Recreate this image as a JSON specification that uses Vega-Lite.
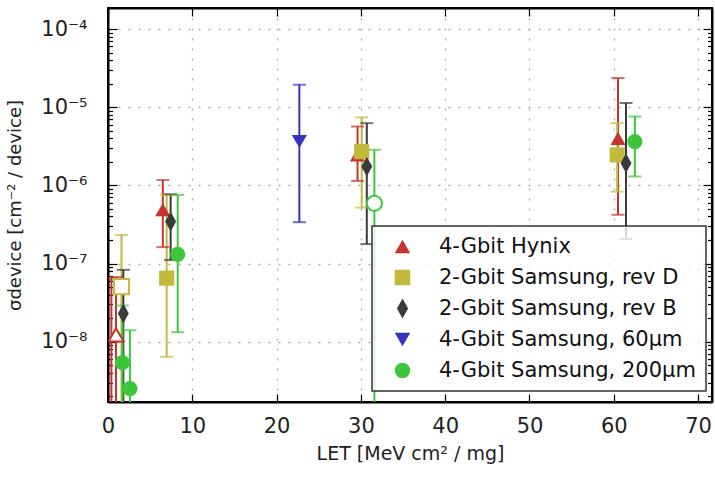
{
 "$schema": "https://vega.github.io/schema/vega-lite/v6.json",
 "width": 604,
 "height": 394,
 "autosize": {"type": "none"},
 "padding": {"left": 108, "top": 8, "right": 3, "bottom": 75},
 "background": "white",
 "config": {
  "font": "DejaVu Sans",
  "view": {"stroke": "black", "strokeWidth": 2},
  "axis": {
   "domainColor": "black", "domainWidth": 2,
   "tickColor": "black", "tickWidth": 1.2,
   "labelFont": "DejaVu Sans", "labelFontSize": 21, "labelColor": "#222",
   "titleFont": "DejaVu Sans", "titleFontSize": 18, "titleFontWeight": "normal", "titleColor": "#222",
   "gridColor": "#aaa", "gridDash": [2, 8], "gridWidth": 1.3,
   "labelFlush": false, "labelOverlap": false, "labelBound": false
  },
  "legend": {
   "labelFontSize": 21, "labelColor": "#111", "labelFont": "DejaVu Sans",
   "symbolSize": 240, "symbolStrokeWidth": 0, "symbolOpacity": 1, "padding": 10, "rowPadding": 9,
   "labelOffset": 26, "symbolOffset": 10, "fillColor": "rgba(255,255,255,0.8)",
   "strokeColor": "#333", "strokeWidth": 1.5, "labelLimit": 400
  }
 },
 "data": {"values": [
  {"series": "4-Gbit Hynix", "x": 0.4, "y": 1e-9, "lo": 1e-10, "hi": 6.5e-8, "open": true},
  {"series": "4-Gbit Hynix", "x": 0.95, "y": 1.22e-8, "lo": 1e-10, "hi": 6.7e-8, "open": true},
  {"series": "4-Gbit Hynix", "x": 6.5, "y": 4.9e-7, "lo": 1.62e-7, "hi": 1.17e-6, "open": false},
  {"series": "4-Gbit Hynix", "x": 29.6, "y": 2.45e-6, "lo": 1.14e-6, "hi": 5.66e-6, "open": false},
  {"series": "4-Gbit Hynix", "x": 60.5, "y": 4.0e-6, "lo": 4.2e-7, "hi": 2.36e-5, "open": false},
  {"series": "2-Gbit Samsung, rev D", "x": 1.6, "y": 5.06e-8, "lo": 1e-10, "hi": 2.32e-7, "open": true},
  {"series": "2-Gbit Samsung, rev D", "x": 6.96, "y": 6.5e-8, "lo": 6.4e-9, "hi": 7.5e-7, "open": false},
  {"series": "2-Gbit Samsung, rev D", "x": 30.1, "y": 2.7e-6, "lo": 5.2e-7, "hi": 7.4e-6, "open": false},
  {"series": "2-Gbit Samsung, rev D", "x": 60.4, "y": 2.45e-6, "lo": 8.3e-7, "hi": 6.25e-6, "open": false},
  {"series": "2-Gbit Samsung, rev B", "x": 1.82, "y": 2.3e-8, "lo": 1e-10, "hi": 8.3e-8, "open": false},
  {"series": "2-Gbit Samsung, rev B", "x": 7.43, "y": 3.44e-7, "lo": 1.11e-7, "hi": 7.7e-7, "open": false},
  {"series": "2-Gbit Samsung, rev B", "x": 30.7, "y": 1.74e-6, "lo": 1.77e-7, "hi": 6.25e-6, "open": false},
  {"series": "2-Gbit Samsung, rev B", "x": 61.45, "y": 1.92e-6, "lo": 2.06e-7, "hi": 1.13e-5, "open": false},
  {"series": "4-Gbit Samsung, 60µm", "x": 22.7, "y": 3.64e-6, "lo": 3.38e-7, "hi": 1.94e-5, "open": false},
  {"series": "4-Gbit Samsung, 200µm", "x": 1.7, "y": 5.4e-9, "lo": 1e-10, "hi": 2.9e-8, "open": false},
  {"series": "4-Gbit Samsung, 200µm", "x": 2.6, "y": 2.5e-9, "lo": 1e-10, "hi": 1.4e-8, "open": false},
  {"series": "4-Gbit Samsung, 200µm", "x": 8.27, "y": 1.31e-7, "lo": 1.32e-8, "hi": 7.55e-7, "open": false},
  {"series": "4-Gbit Samsung, 200µm", "x": 31.6, "y": 5.9e-7, "lo": 1e-10, "hi": 2.85e-6, "open": true},
  {"series": "4-Gbit Samsung, 200µm", "x": 62.5, "y": 3.64e-6, "lo": 1.3e-6, "hi": 7.6e-6, "open": false}
 ]},
 "layer": [
  {
   "encoding": {
    "x": {"field": "x", "type": "quantitative", "title": "LET [MeV cm² / mg]",
     "scale": {"domain": [0, 71.65], "nice": false, "zero": false},
     "axis": {"orient": "bottom", "values": [0, 10, 20, 30, 40, 50, 60, 70], "title": "LET [MeV cm² / mg]", "tickSize": -8, "labelPadding": 21, "titlePadding": 8, "titleFontSize": 19, "grid": true}},
    "y": {"field": "y", "type": "quantitative", "title": "σdevice [cm⁻² / device]",
     "scale": {"type": "log", "domain": [1.69e-9, 1.86e-4], "nice": false},
     "axis": {"orient": "left", "title": "σdevice [cm⁻² / device]",
      "values": [2e-9, 3e-9, 4e-9, 5e-9, 6e-9, 7e-9, 8e-9, 9e-9, 1e-8, 2e-8, 3e-8, 4e-8, 5e-8, 6e-8, 7e-8, 8e-8, 9e-8, 1e-7, 2e-7, 3e-7, 4e-7, 5e-7, 6e-7, 7e-7, 8e-7, 9e-7, 1e-6, 2e-6, 3e-6, 4e-6, 5e-6, 6e-6, 7e-6, 8e-6, 9e-6, 1e-5, 2e-5, 3e-5, 4e-5, 5e-5, 6e-5, 7e-5, 8e-5, 9e-5, 1e-4],
      "labelExpr": "abs(log(datum.value)/LN10 - round(log(datum.value)/LN10)) < 0.001 ? '10⁻' + ['⁰','¹','²','³','⁴','⁵','⁶','⁷','⁸','⁹'][-round(log(datum.value)/LN10)] : ''",
      "tickSize": {"condition": {"test": "abs(log(datum.value)/LN10 - round(log(datum.value)/LN10)) < 0.001", "value": -9}, "value": -4.5},
      "gridOpacity": {"condition": {"test": "abs(log(datum.value)/LN10 - round(log(datum.value)/LN10)) < 0.001", "value": 1}, "value": 0},
      "labelPadding": 30, "titlePadding": 16, "grid": true}}
   },
   "layer": [
    {
     "mark": {"type": "rule", "strokeWidth": 2, "clip": true},
     "encoding": {
      "y": {"field": "lo", "type": "quantitative", "title": "σdevice [cm⁻² / device]", "scale": {"type": "log", "domain": [1.69e-9, 1.86e-4], "nice": false}},
      "y2": {"field": "hi"},
      "color": {"field": "series", "type": "nominal", "legend": {"title": null, "orient": "none", "legendX": 264, "legendY": 218},
       "scale": {"domain": ["4-Gbit Hynix", "2-Gbit Samsung, rev D", "2-Gbit Samsung, rev B", "4-Gbit Samsung, 60µm", "4-Gbit Samsung, 200µm"], "range": ["#c8322d", "#c2ba3a", "#3a3a3a", "#3434bf", "#3cc63c"]}}
     }
    },
    {
     "mark": {"type": "tick", "orient": "horizontal", "size": 13, "thickness": 2, "clip": true},
     "encoding": {
      "y": {"field": "hi", "type": "quantitative", "title": "σdevice [cm⁻² / device]", "scale": {"type": "log", "domain": [1.69e-9, 1.86e-4], "nice": false}},
      "color": {"field": "series", "type": "nominal", "legend": {"title": null, "orient": "none", "legendX": 264, "legendY": 218}}
     }
    },
    {
     "mark": {"type": "tick", "orient": "horizontal", "size": 13, "thickness": 2, "clip": true},
     "encoding": {
      "y": {"field": "lo", "type": "quantitative", "title": "σdevice [cm⁻² / device]", "scale": {"type": "log", "domain": [1.69e-9, 1.86e-4], "nice": false}},
      "color": {"field": "series", "type": "nominal", "legend": {"title": null, "orient": "none", "legendX": 264, "legendY": 218}}
     }
    },
    {
     "transform": [{"filter": "!datum.open"}],
     "mark": {"type": "point", "filled": true, "opacity": 1, "size": 230, "clip": true},
     "encoding": {
      "color": {"field": "series", "type": "nominal", "legend": {"title": null, "orient": "none", "legendX": 264, "legendY": 218}},
      "shape": {"field": "series", "type": "nominal", "legend": {"title": null, "orient": "none", "legendX": 264, "legendY": 218},
       "scale": {"domain": ["4-Gbit Hynix", "2-Gbit Samsung, rev D", "2-Gbit Samsung, rev B", "4-Gbit Samsung, 60µm", "4-Gbit Samsung, 200µm"], "range": ["triangle-up", "square", "M0,-1.3L0.72,0L0,1.3L-0.72,0Z", "triangle-down", "circle"]}}
     }
    },
    {
     "transform": [{"filter": "datum.open"}],
     "mark": {"type": "point", "filled": false, "fill": "white", "fillOpacity": 1, "strokeWidth": 2, "opacity": 1, "size": 230, "clip": true},
     "encoding": {
      "color": {"field": "series", "type": "nominal", "legend": {"title": null, "orient": "none", "legendX": 264, "legendY": 218}},
      "shape": {"field": "series", "type": "nominal", "legend": {"title": null, "orient": "none", "legendX": 264, "legendY": 218}}
     }
    }
   ]
  },
  {
   "mark": {"type": "point", "opacity": 0},
   "encoding": {
    "x": {"field": "x", "type": "quantitative",
     "scale": {"domain": [0, 71.65], "nice": false, "zero": false},
     "axis": {"orient": "top", "values": [0, 10, 20, 30, 40, 50, 60, 70], "title": null, "labels": false, "tickSize": -8, "grid": false}},
    "y": {"field": "y", "type": "quantitative",
     "scale": {"type": "log", "domain": [1.69e-9, 1.86e-4], "nice": false},
     "axis": {"orient": "right", "title": null, "labels": false, "grid": false,
      "values": [2e-9, 3e-9, 4e-9, 5e-9, 6e-9, 7e-9, 8e-9, 9e-9, 1e-8, 2e-8, 3e-8, 4e-8, 5e-8, 6e-8, 7e-8, 8e-8, 9e-8, 1e-7, 2e-7, 3e-7, 4e-7, 5e-7, 6e-7, 7e-7, 8e-7, 9e-7, 1e-6, 2e-6, 3e-6, 4e-6, 5e-6, 6e-6, 7e-6, 8e-6, 9e-6, 1e-5, 2e-5, 3e-5, 4e-5, 5e-5, 6e-5, 7e-5, 8e-5, 9e-5, 1e-4],
      "tickSize": {"condition": {"test": "abs(log(datum.value)/LN10 - round(log(datum.value)/LN10)) < 0.001", "value": -9}, "value": -4.5}}}
   }
  }
 ],
 "resolve": {"axis": {"x": "independent", "y": "independent"}}
}
